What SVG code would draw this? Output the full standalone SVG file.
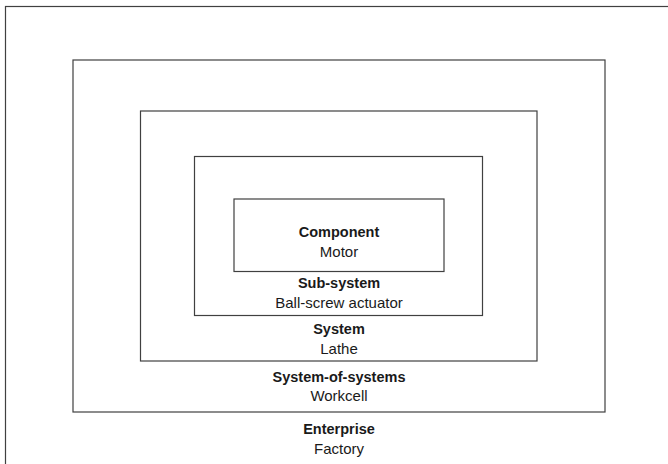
<svg xmlns="http://www.w3.org/2000/svg" width="668" height="464" viewBox="0 0 668 464">
<style>
rect.box{fill:none;stroke:#404040;stroke-width:1.2}
text{font-family:"Liberation Sans",Arial,sans-serif;fill:#1a1a1a;text-anchor:middle}
.t{font-weight:bold;font-size:14.5px}
.s{font-size:15px}
</style>
<rect width="668" height="464" fill="#ffffff"/>
<g id="enterprise">
<rect class="box" x="5.5" y="6.5" width="680" height="480"/>
<text class="t" x="339" y="434">Enterprise</text>
<text class="s" x="339" y="453.5">Factory</text>
</g>
<g id="system-of-systems">
<rect class="box" x="73" y="60" width="532" height="352"/>
<text class="t" x="339" y="381.5">System-of-systems</text>
<text class="s" x="339" y="401">Workcell</text>
</g>
<g id="system">
<rect class="box" x="140.5" y="111" width="396.5" height="250"/>
<text class="t" x="339" y="334">System</text>
<text class="s" x="339" y="354">Lathe</text>
</g>
<g id="sub-system">
<rect class="box" x="194.5" y="156.5" width="288" height="159"/>
<text class="t" x="339" y="288">Sub-system</text>
<text class="s" x="339" y="308">Ball-screw actuator</text>
</g>
<g id="component">
<rect class="box" x="234" y="199" width="210" height="72.5"/>
<text class="t" x="339" y="237">Component</text>
<text class="s" x="339" y="257">Motor</text>
</g>
<g id="connectors"/>
</svg>
